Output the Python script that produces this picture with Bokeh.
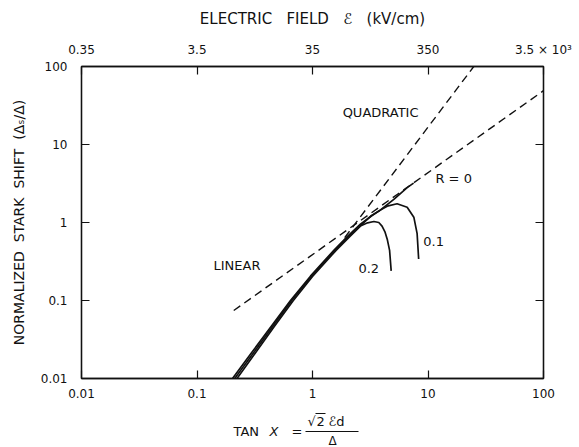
from bokeh.plotting import figure
from bokeh.models import LogAxis, FixedTicker, Label, Range1d
from bokeh.layouts import column
from bokeh.core.properties import value
from bokeh.embed import file_html
from bokeh.resources import INLINE

# ---- data -------------------------------------------------------------
# decade ticks of tan X and the matching electric-field values
x_ticks = [0.01, 0.1, 1, 10, 100]
x_tick_labels = ["0.01", "0.1", "1", "10", "100"]
field_tick_labels = ["0.35", "3.5", "35", "350", "3.5 × 10³"]
y_ticks = [0.01, 0.1, 1, 10, 100]
y_tick_labels = ["0.01", "0.1", "1", "10", "100"]

# limiting behaviour (dashed)
linear_x = [0.208, 100]
linear_y = [0.0744, 49]
quad_x = [1.9, 24.9]
quad_y = [0.64, 100]

# normalized Stark shift for R = 0, 0.1, 0.2
r0_x = [0.203, 0.3, 0.45, 0.645, 0.96, 1.53, 2.0, 2.6, 3.3, 3.88, 5.06, 6.6, 7.5]
r0_y = [0.0100, 0.0218, 0.049, 0.100, 0.205, 0.44, 0.66, 0.95, 1.24, 1.45, 1.98, 2.80, 3.2]

r01_x = [0.212, 0.31, 0.46, 0.66, 0.98, 1.56, 2.05, 2.65, 3.18, 3.8, 4.43, 5.4, 6.6, 7.54, 8.05, 8.3]
r01_y = [0.0100, 0.0215, 0.048, 0.100, 0.205, 0.44, 0.66, 0.93, 1.2, 1.42, 1.62, 1.74, 1.57, 1.17, 0.72, 0.34]

r02_x = [0.222, 0.32, 0.47, 0.68, 1.0, 1.6, 2.1, 2.6, 3.0, 3.4, 3.75, 4.0, 4.25, 4.45, 4.65, 4.8]
r02_y = [0.0100, 0.0212, 0.047, 0.099, 0.203, 0.44, 0.66, 0.90, 0.99, 1.03, 1.0, 0.9, 0.75, 0.6, 0.44, 0.24]

# ---- main figure ------------------------------------------------------
FONT = "DejaVu Sans"
INK = "#111111"
W, H_MAIN, H_FOOT = 579, 405, 42
FRAME_L, FRAME_R = 81, 543
TOP_GAP = "\u00a0\u00a0 "   # wide word spacing, top title
SIDE_GAP = "\u00a0 "        # word spacing, side title

p = figure(width=W, height=H_MAIN,
           x_axis_type="log", y_axis_type="log",
           x_range=(0.01, 100), y_range=(0.01, 100),
           output_backend="svg", toolbar_location=None,
           min_border_left=FRAME_L, min_border_right=W - FRAME_R,
           min_border_top=66, min_border_bottom=27,
           background_fill_color="white", border_fill_color="white")

p.xgrid.visible = False
p.ygrid.visible = False
p.outline_line_color = INK
p.outline_line_width = 1.3


def style_axis(ax, ticks, labels, standoff, label_size="12px"):
    ax.ticker = FixedTicker(ticks=ticks, minor_ticks=[])
    ax.major_label_overrides = {t: s for t, s in zip(ticks, labels)}
    ax.major_tick_in = 8
    ax.major_tick_out = 0
    ax.minor_tick_in = 0
    ax.minor_tick_out = 0
    ax.major_tick_line_color = INK
    ax.major_tick_line_width = 1.2
    ax.axis_line_color = INK
    ax.axis_line_width = 1.3
    ax.major_label_standoff = standoff
    ax.major_label_text_font = FONT
    ax.major_label_text_font_size = label_size
    ax.major_label_text_color = INK
    ax.axis_label_text_font = FONT
    ax.axis_label_text_font_size = "14px"
    ax.axis_label_text_font_style = "normal"
    ax.axis_label_text_color = INK


top_axis = LogAxis()
right_axis = LogAxis()

style_axis(p.xaxis[0], x_ticks, x_tick_labels, 10)
style_axis(p.yaxis[0], y_ticks, y_tick_labels, 14)
style_axis(top_axis, x_ticks, field_tick_labels, 10)
style_axis(right_axis, y_ticks, ["" for _ in y_ticks], 2, label_size="0px")

p.yaxis[0].axis_label = SIDE_GAP.join(["NORMALIZED", "STARK", "SHIFT", "(Δₛ/Δ)"])
p.yaxis[0].axis_label_standoff = 11
top_axis.axis_label = TOP_GAP.join(["ELECTRIC", "FIELD", "ℰ", "(kV/cm)"])
top_axis.axis_label_standoff = 12
top_axis.axis_label_text_font_size = "15px"

p.add_layout(top_axis, "above")
p.add_layout(right_axis, "right")

# ---- curves -----------------------------------------------------------
p.line(linear_x, linear_y, line_color=INK, line_width=1.4, line_dash="8 5")
p.line(quad_x, quad_y, line_color=INK, line_width=1.4, line_dash="8 5")

for xs, ys in [(r0_x, r0_y), (r01_x, r01_y), (r02_x, r02_y)]:
    p.line(xs, ys, line_color=INK, line_width=1.7, line_join="round")

# ---- in-plot labels ---------------------------------------------------
def note(x, y, text, align="left"):
    p.add_layout(Label(x=x, y=y, text=text, text_font=FONT, text_font_size="13px",
                       text_align=align, text_baseline="middle", text_color=INK))


note(8.28, 25.7, "QUADRATIC", align="right")
note(0.139, 0.28, "LINEAR")
note(11.6, 3.66, "R = 0")
note(9.1, 0.57, "0.1")
note(2.5, 0.26, "0.2")

# ---- x-axis title strip: TAN X = sqrt(2) E d / Delta ------------------
# the strip's frame lines up with the main frame, so its x range is set
# to the page pixel columns of that frame and its y runs downward
q = figure(width=W, height=H_FOOT,
           x_range=Range1d(FRAME_L, FRAME_R), y_range=Range1d(H_FOOT, 0),
           output_backend="svg", toolbar_location=None,
           min_border_left=FRAME_L, min_border_right=W - FRAME_R,
           min_border_top=0, min_border_bottom=0,
           background_fill_color="white", border_fill_color="white")
q.axis.visible = False
q.grid.visible = False
q.outline_line_color = None


def foot(x, y, text, align="left", baseline="middle", size="13px", style="normal"):
    q.text(x=[x], y=[y], text=[text], text_font=value(FONT), text_font_size=size,
           text_font_style=style, text_baseline=baseline, text_align=align,
           text_color=INK)


foot(233, 26, "TAN")
foot(269, 26, "X", style="italic")
foot(291, 26, "=")
foot(307, 16, "√")
foot(316, 16, "2")
foot(328, 16, "ℰd")
q.segment(x0=[315], y0=[8], x1=[325], y1=[8], line_color=INK, line_width=1.0)
q.segment(x0=[305], y0=[26], x1=[358], y1=[26], line_color=INK, line_width=1.1)
foot(332, 28, "Δ", align="center", baseline="top", size="12px")

layout = column(p, q, spacing=0)
open("out.html", "w").write(file_html(layout, INLINE))
